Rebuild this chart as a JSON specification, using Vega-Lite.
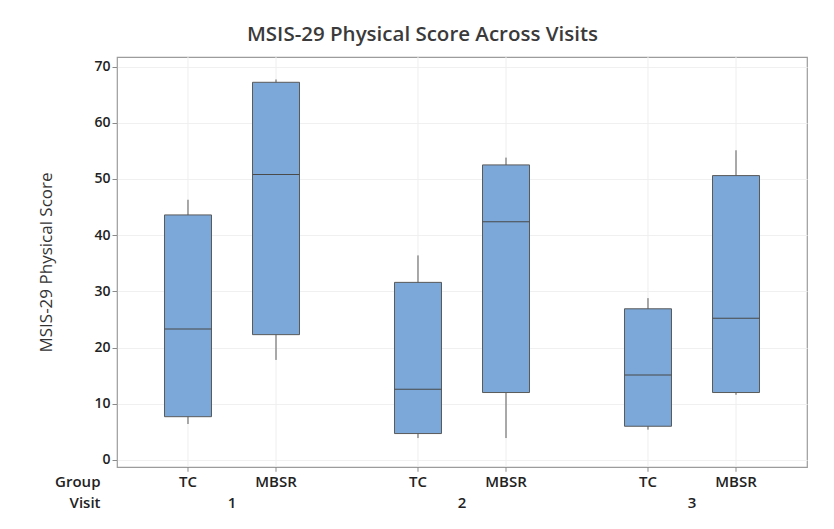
{
  "$schema": "https://vega.github.io/schema/vega-lite/v6.json",
  "autosize": "none",
  "width": 690,
  "height": 410,
  "padding": {"left": 117, "top": 57, "right": 27, "bottom": 62},
  "background": "white",
  "title": {
    "text": "MSIS-29 Physical Score Across Visits",
    "anchor": "middle",
    "frame": "bounds",
    "font": "Open Sans",
    "fontSize": 20.5,
    "fontWeight": 600,
    "color": "#3a3a3a",
    "offset": 11
  },
  "config": {
    "font": "Open Sans",
    "view": {"stroke": "#9c9c9c", "strokeWidth": 1.2}
  },
  "data": {
    "values": [
      {"Visit": "1", "Group": "TC", "lower": 6.4, "q1": 7.7, "median": 23.3, "q3": 43.6, "upper": 46.3},
      {"Visit": "1", "Group": "MBSR", "lower": 17.8, "q1": 22.3, "median": 50.8, "q3": 67.2, "upper": 67.7},
      {"Visit": "2", "Group": "TC", "lower": 3.9, "q1": 4.7, "median": 12.6, "q3": 31.6, "upper": 36.4},
      {"Visit": "2", "Group": "MBSR", "lower": 3.9, "q1": 12.0, "median": 42.4, "q3": 52.5, "upper": 53.8},
      {"Visit": "3", "Group": "TC", "lower": 5.4, "q1": 6.0, "median": 15.1, "q3": 26.9, "upper": 28.8},
      {"Visit": "3", "Group": "MBSR", "lower": 11.6, "q1": 12.0, "median": 25.2, "q3": 50.6, "upper": 55.1}
    ]
  },
  "encoding": {
    "x": {
      "field": "Visit",
      "type": "nominal",
      "scale": {"domain": ["1", "2", "3"], "paddingInner": 0, "paddingOuter": 0},
      "axis": {
        "title": ["Group", "Visit"],
        "titleX": -17,
        "titleY": 7,
        "titleAlign": "right",
        "titleBaseline": "top",
        "titleLineHeight": 21,
        "titleFontSize": 15,
        "titleFontWeight": 600,
        "titleColor": "#222222",
        "labelAngle": 0,
        "labelPadding": 28,
        "labelFontSize": 15,
        "labelFontWeight": 600,
        "labelColor": "#222222",
        "ticks": false,
        "domain": false,
        "grid": false
      }
    },
    "xOffset": {
      "field": "Group",
      "type": "nominal",
      "scale": {"type": "point", "domain": ["TC", "MBSR"], "padding": 0.8068}
    }
  },
  "layer": [
    {
      "mark": {"type": "rule", "color": "#eeeeee", "strokeWidth": 1},
      "encoding": {}
    },
    {
      "mark": {"type": "rule", "color": "#5a5a5a", "strokeWidth": 1},
      "encoding": {
        "y": {
          "field": "lower",
          "type": "quantitative",
          "scale": {"domain": [-1.25, 71.7], "nice": false, "zero": false},
          "axis": {
            "values": [0, 10, 20, 30, 40, 50, 60, 70],
            "title": "MSIS-29 Physical Score",
            "titleFontSize": 17,
            "titleFontWeight": "normal",
            "titleColor": "#333333",
            "titlePadding": 38,
            "labelFontSize": 14,
            "labelFontWeight": 600,
            "labelColor": "#222222",
            "labelPadding": 2,
            "tickSize": 5,
            "tickColor": "#8a8a8a",
            "domain": false,
            "grid": true,
            "gridColor": "#f0f0f0"
          }
        },
        "y2": {"field": "upper"}
      }
    },
    {
      "mark": {"type": "bar", "width": 47, "fill": "#7ba7d9", "stroke": "#5a5a5a", "strokeWidth": 1},
      "encoding": {
        "y": {"field": "q1", "type": "quantitative"},
        "y2": {"field": "q3"}
      }
    },
    {
      "mark": {"type": "tick", "size": 47, "thickness": 1, "color": "#4a4a4a", "opacity": 1},
      "encoding": {
        "y": {"field": "median", "type": "quantitative"}
      }
    },
    {
      "mark": {"type": "rule", "color": "#8a8a8a", "strokeWidth": 1},
      "encoding": {
        "y": {"datum": -1.25},
        "y2": {"datum": -2.1}
      }
    },
    {
      "mark": {"type": "text", "fontSize": 15, "fontWeight": 600, "color": "#222222", "baseline": "middle", "align": "center"},
      "encoding": {
        "text": {"field": "Group"},
        "y": {"datum": -3.9}
      }
    }
  ]
}
